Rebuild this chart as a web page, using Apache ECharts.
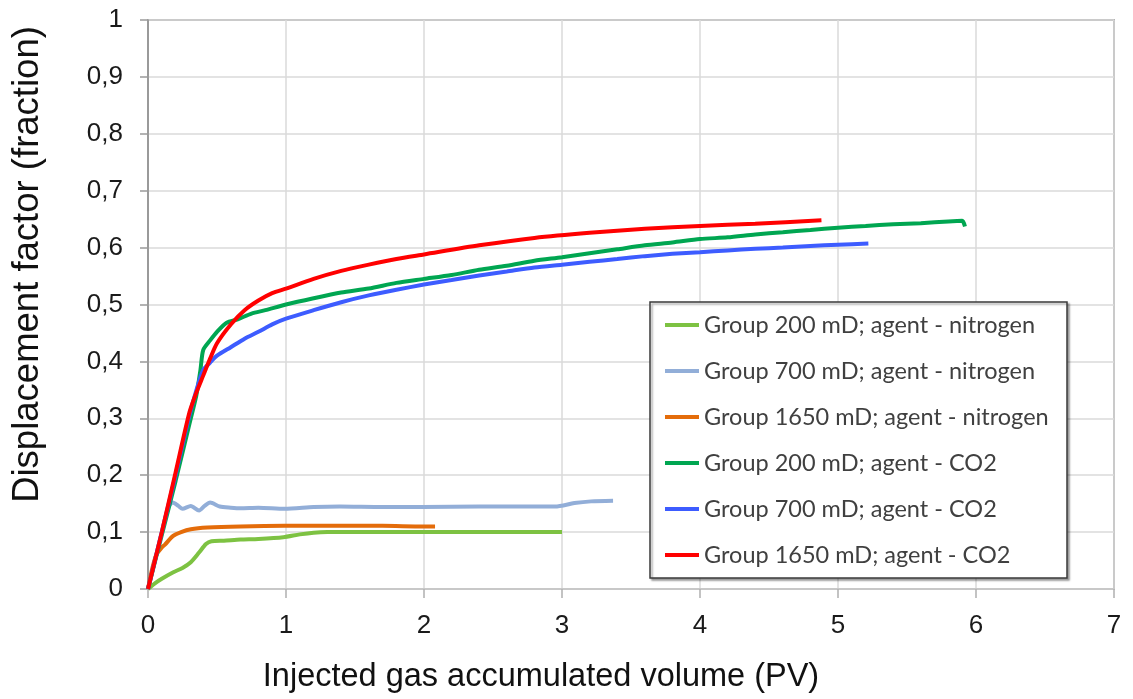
<!DOCTYPE html>
<html>
<head>
<meta charset="utf-8">
<script src="https://cdn.jsdelivr.net/npm/echarts@6/dist/echarts.min.js"></script>
<style>
html,body{margin:0;padding:0;background:#fff;}
#chart{width:1133px;height:699px;}
</style>
</head>
<body>
<div id="chart"></div>
<script>
// ---- data ----
const seriesNames = [
  'Group 200 mD; agent - nitrogen',
  'Group 700 mD; agent - nitrogen',
  'Group 1650 mD; agent - nitrogen',
  'Group 200 mD; agent - CO2',
  'Group 700 mD; agent - CO2',
  'Group 1650 mD; agent - CO2'
];
const seriesColors = ['#7dc242', '#92aed8', '#e46c0a', '#00a651', '#3d5cff', '#ff0000'];

const n2_200_x = [0, 0.05, 0.1, 0.18, 0.25, 0.31, 0.37, 0.42, 0.46, 0.55, 0.67, 0.8, 0.98, 1.1, 1.2, 1.3, 1.6, 2.0, 2.5, 3.0];
const n2_200_y = [0, 0.01, 0.018, 0.029, 0.037, 0.047, 0.064, 0.079, 0.084, 0.085, 0.087, 0.088, 0.091, 0.096, 0.099, 0.1, 0.1, 0.1, 0.1, 0.1];

const n2_700_x = [0, 0.05, 0.1, 0.15, 0.18, 0.22, 0.25, 0.31, 0.37, 0.41, 0.45, 0.52, 0.6, 0.67, 0.8, 0.99, 1.2, 1.39, 1.7, 1.99, 2.4, 2.95, 3.09, 3.21, 3.37];
const n2_700_y = [0, 0.05, 0.1, 0.145, 0.152, 0.146, 0.141, 0.146, 0.138, 0.146, 0.152, 0.145, 0.143, 0.142, 0.143, 0.141, 0.144, 0.145, 0.144, 0.144, 0.145, 0.145, 0.151, 0.154, 0.155];

const n2_1650_x = [0, 0.03, 0.06, 0.1, 0.123, 0.18, 0.24, 0.31, 0.43, 0.67, 0.99, 1.39, 1.7, 1.99, 2.08];
const n2_1650_y = [0, 0.035, 0.06, 0.073, 0.078, 0.093, 0.1, 0.105, 0.108, 0.11, 0.111, 0.111, 0.111, 0.11, 0.11];

const co2_200_x = [0, 0.1, 0.2, 0.3, 0.35, 0.38, 0.4, 0.45, 0.5, 0.57, 0.65, 0.75, 0.85, 1.0, 1.2, 1.4, 1.6, 1.8, 2.0, 2.2, 2.4, 2.6, 2.8, 3.0, 3.2, 3.4, 3.6, 3.8, 4.0, 4.2, 4.4, 4.6, 4.8, 5.0, 5.2, 5.4, 5.6, 5.8, 5.9, 5.92];
const co2_200_y = [0, 0.095, 0.19, 0.29, 0.34, 0.385, 0.42, 0.437, 0.452, 0.468, 0.474, 0.484, 0.49, 0.5, 0.511, 0.521, 0.528, 0.538, 0.545, 0.552, 0.561, 0.568, 0.577, 0.583, 0.59, 0.597, 0.604, 0.609, 0.615, 0.618, 0.623, 0.627, 0.631, 0.635, 0.638, 0.641, 0.643, 0.646, 0.647, 0.637];

const co2_700_x = [0, 0.1, 0.2, 0.3, 0.37, 0.4, 0.45, 0.5, 0.6, 0.7, 0.8, 0.9, 1.0, 1.2, 1.4, 1.6, 1.8, 2.0, 2.2, 2.4, 2.6, 2.8, 3.0, 3.2, 3.4, 3.6, 3.8, 4.0, 4.2, 4.4, 4.6, 4.8, 5.0, 5.22];
const co2_700_y = [0, 0.1, 0.2, 0.305, 0.365, 0.385, 0.398, 0.41, 0.425, 0.44, 0.452, 0.465, 0.475, 0.49, 0.504, 0.516, 0.526, 0.535, 0.543, 0.551, 0.558, 0.565, 0.57, 0.575, 0.58, 0.585, 0.589, 0.592, 0.595, 0.598, 0.6, 0.603, 0.605, 0.607];

const co2_1650_x = [0, 0.1, 0.2, 0.3, 0.35, 0.4, 0.45, 0.5, 0.6, 0.7, 0.8, 0.9, 1.0, 1.2, 1.4, 1.6, 1.8, 2.0, 2.4, 2.8, 3.2, 3.6, 4.0, 4.4, 4.88];
const co2_1650_y = [0, 0.1, 0.205, 0.31, 0.345, 0.375, 0.405, 0.432, 0.465, 0.49, 0.507, 0.52, 0.528, 0.545, 0.559, 0.57, 0.58, 0.588, 0.604, 0.617, 0.626, 0.633, 0.638, 0.642, 0.648];

const xTicks = { min: 0, max: 7, interval: 1 };
const yTicks = { min: 0, max: 1, interval: 0.1 };

// ---- build ----
function pairs(xs, ys) { return xs.map((x, i) => [x, ys[i]]); }
const allData = [
  pairs(n2_200_x, n2_200_y),
  pairs(n2_700_x, n2_700_y),
  pairs(n2_1650_x, n2_1650_y),
  pairs(co2_200_x, co2_200_y),
  pairs(co2_700_x, co2_700_y),
  pairs(co2_1650_x, co2_1650_y)
];

const chart = echarts.init(document.getElementById('chart'), null, { renderer: 'canvas' });
const option = {
  animation: false,
  backgroundColor: '#ffffff',
  grid: {
    left: 148, right: 19, top: 20, bottom: 108,
    show: true, borderColor: '#7a7a7a', borderWidth: 1.5, backgroundColor: 'transparent'
  },
  legend: {
    left: 650, top: 302,
    orient: 'vertical',
    backgroundColor: '#ffffff',
    borderColor: '#3a3a3a', borderWidth: 1.5,
    shadowColor: 'rgba(0,0,0,0.35)', shadowBlur: 2, shadowOffsetX: 2, shadowOffsetY: 2,
    padding: [11, 17, 11, 15],
    itemGap: 22,
    itemWidth: 34, itemHeight: 4,
    itemTextGap: 2,
    icon: 'rect',
    textStyle: { fontFamily: 'Lato', fontSize: 23.5, color: '#404040', lineHeight: 24, width: 346, overflow: 'none' },
    data: seriesNames
  },
  xAxis: {
    type: 'value', min: xTicks.min, max: xTicks.max, interval: xTicks.interval,
    name: 'Injected gas accumulated volume (PV)',
    nameLocation: 'middle', nameGap: 72,
    nameTextStyle: { fontFamily: 'Liberation Sans', fontSize: 32.5, color: '#111', padding: [0, 180, 0, 0] },
    axisLine: { show: true, lineStyle: { color: '#c8c8c8', width: 2 } },
    axisTick: { show: true, length: 9, lineStyle: { color: '#b0b0b0', width: 1.5 } },
    axisLabel: { fontFamily: 'Liberation Sans', fontSize: 26, color: '#1a1a1a', margin: 24 },
    splitLine: { show: true, lineStyle: { color: '#dadada', width: 1.5 } }
  },
  yAxis: {
    type: 'value', min: yTicks.min, max: yTicks.max, interval: yTicks.interval,
    name: 'Displacement factor (fraction)',
    nameLocation: 'middle', nameGap: 102, nameRotate: 90,
    nameTextStyle: { fontFamily: 'Liberation Sans', fontSize: 36.5, color: '#111', padding: [0, 0, 0, 80] },
    axisLine: { show: true, lineStyle: { color: '#8a8a8a', width: 1.5 } },
    axisTick: { show: true, length: 8, lineStyle: { color: '#9a9a9a', width: 1.5 } },
    axisLabel: {
      fontFamily: 'Liberation Sans', fontSize: 26, color: '#1a1a1a', margin: 25,
      formatter: function (v) {
        if (Math.abs(v) < 1e-9) return '0';
        if (Math.abs(v - 1) < 1e-9) return '1';
        return v.toFixed(1).replace('.', ',');
      }
    },
    splitLine: { show: true, lineStyle: { color: '#dadada', width: 1.5 } }
  },
  series: allData.map((d, i) => ({
    name: seriesNames[i],
    type: 'line',
    data: d,
    showSymbol: false,
    symbol: 'none',
    smooth: 0.25,
    color: seriesColors[i],
    lineStyle: { color: seriesColors[i], width: 4 },
    z: 2 + i
  }))
};
chart.setOption(option);
</script>
</body>
</html>
